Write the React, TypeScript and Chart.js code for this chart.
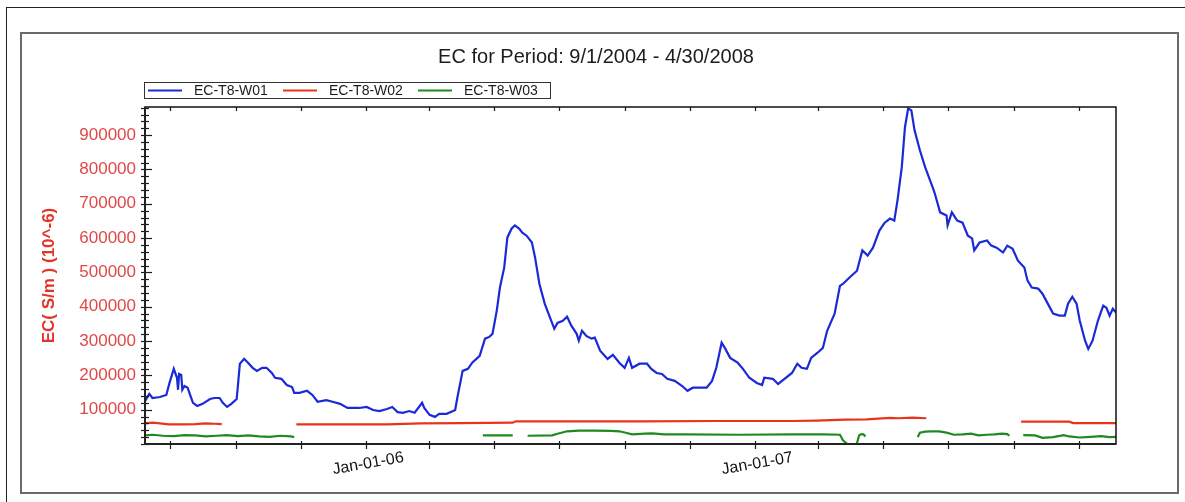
import { useEffect, useRef } from 'react';
import { Chart, registerables } from 'chart.js';

Chart.register(...registerables);

const FONT = '"Liberation Sans", Arial, Helvetica, sans-serif';

const chartTitle = 'EC for Period: 9/1/2004 - 4/30/2008';
const yAxisTitle = 'EC( S/m ) (10^-6)';
const seriesNames = ['EC-T8-W01', 'EC-T8-W02', 'EC-T8-W03'];
const seriesColors = ['#1a2ad6', '#e8341c', '#1f8a1f'];

// x values: days relative to Jan-01-2006
const xMin = -207;
const xMax = 704;
const xTickDays = [-184, -122, -61, 0, 59, 120, 181, 243, 304, 365, 424, 485, 546, 608, 669];
const xTickLabels = ['', '', '', 'Jan-01-06', '', '', '', '', '', 'Jan-01-07', '', '', '', '', ''];

const yMin = 0;
const yMax = 982000;
const yMinorStep = 20000;
const yTickLabels = ['100000', '200000', '300000', '400000', '500000', '600000', '700000', '800000', '900000'];

const w01Days = [
  -207, -203, -200, -193, -187, -184, -180, -177, -176, -175,
  -173, -172, -170, -167, -165, -162, -158, -153, -146, -142,
  -137, -134, -130, -126, -121, -120, -118, -114, -111, -106,
  -102, -97, -93, -88, -85, -79, -74, -69, -67, -62,
  -55, -50, -45, -37, -31, -24, -17, -12, -6, 1,
  7, 13, 20, 25, 30, 35, 41, 46, 53, 55,
  60, 65, 69, 76, 82, 84, 86, 91, 96, 100,
  107, 112, 116, 119, 123, 126, 130, 133, 137, 140,
  144, 147, 151, 156, 159, 163, 168, 173, 177, 180,
  185, 189, 193, 198, 200, 203, 207, 212, 215, 220,
  227, 232, 238, 243, 247, 250, 257, 264, 268, 273,
  278, 283, 290, 297, 302, 307, 320, 325, 329, 334,
  337, 342, 349, 354, 360, 367, 372, 374, 382, 387,
  393, 400, 405, 409, 414, 418, 424, 429, 433, 440,
  445, 448, 454, 461, 466, 471, 476, 482, 487, 492,
  496, 499, 503, 506, 509, 512, 515, 520, 525, 532,
  534, 539, 545, 546, 550, 555, 560, 565, 569, 571,
  576, 583, 587, 592, 598, 602, 607, 612, 618, 621,
  625, 631, 635, 640, 645, 651, 656, 659, 663, 667,
  670, 675, 678, 682, 687, 692, 695, 698, 701, 704,
];
const w01EC = [
  125000, 146000, 134000, 137000, 143000, 178000, 219000, 193000, 158000, 204000,
  201000, 158000, 169000, 164000, 146000, 120000, 111000, 117000, 131000, 134000,
  134000, 120000, 108000, 117000, 131000, 164000, 234000, 248000, 239000, 222000,
  213000, 222000, 222000, 207000, 193000, 190000, 172000, 166000, 149000, 149000,
  155000, 143000, 123000, 128000, 123000, 117000, 105000, 105000, 105000, 108000,
  99000, 96000, 102000, 108000, 93000, 91000, 96000, 91000, 120000, 105000,
  85000, 79000, 88000, 88000, 96000, 99000, 134000, 213000, 219000, 237000,
  257000, 307000, 312000, 321000, 388000, 456000, 514000, 602000, 628000, 637000,
  628000, 616000, 607000, 587000, 543000, 467000, 409000, 368000, 336000, 353000,
  359000, 371000, 345000, 321000, 301000, 330000, 315000, 307000, 310000, 272000,
  248000, 260000, 237000, 222000, 251000, 222000, 234000, 234000, 219000, 207000,
  204000, 190000, 184000, 169000, 155000, 164000, 164000, 184000, 222000, 295000,
  280000, 251000, 237000, 219000, 193000, 178000, 172000, 193000, 190000, 175000,
  190000, 207000, 234000, 222000, 219000, 251000, 266000, 280000, 330000, 380000,
  461000, 467000, 485000, 505000, 564000, 549000, 572000, 622000, 645000, 657000,
  651000, 710000, 806000, 923000, 978000, 972000, 914000, 856000, 806000, 748000,
  730000, 675000, 666000, 637000, 675000, 651000, 645000, 607000, 599000, 564000,
  587000, 593000, 578000, 572000, 558000, 578000, 569000, 534000, 514000, 476000,
  456000, 453000, 438000, 409000, 380000, 374000, 374000, 409000, 429000, 409000,
  359000, 301000, 277000, 301000, 359000, 403000, 397000, 374000, 394000, 383000,
];

const w02Days = [
  -207, -200, -193, -185, -170, -160, -150, -142, -135,
  -100,
  -65, -20, 20, 52, 90, 138, 141, 200, 260, 330, 400, 423, 450, 470, 492, 500, 513, 526,
  570,
  615, 660, 664, 704,
];
const w02EC = [
  60000, 62000, 60000, 57000, 57000, 58000, 60000, 59000, 58000,
  null,
  57000, 57000, 57000, 60000, 61000, 62000, 66000, 66000, 66000, 67000, 67000, 68000, 71000, 72000, 76000, 75000, 77000, 75000,
  null,
  65000, 65000, 61000, 61000,
];

const w03Days = [
  -207, -200, -190, -180, -170, -160, -150, -140, -130, -120, -110, -100, -90, -80, -70, -67,
  20,
  110, 138,
  145,
  152, 175, 180, 189, 200, 215, 230, 238, 245, 250, 262, 269, 280, 300, 350, 400, 430, 445, 448, 452,
  456,
  461, 463, 465, 467, 469,
  490,
  518, 520, 525, 530, 538, 545, 552, 560, 568, 575, 583, 590, 597, 602, 604,
  610,
  617, 628, 635, 645, 655, 660, 670, 680, 690, 698, 704,
];
const w03EC = [
  25000, 27000, 24000, 23000, 26000, 25000, 22000, 24000, 26000, 23000, 25000, 22000, 21000, 24000, 22000, 20000,
  null,
  25000, 25000,
  null,
  24000, 25000, 30000, 37000, 39000, 39000, 38000, 37000, 32000, 28000, 30000, 31000, 28000, 28000, 27000, 28000, 28000, 27000, 10000, 0,
  null,
  3000, 25000, 29000, 28000, 22000,
  null,
  20000, 33000, 36000, 37000, 37000, 33000, 27000, 28000, 30000, 25000, 27000, 28000, 30000, 29000, 24000,
  null,
  26000, 25000, 18000, 20000, 26000, 22000, 19000, 21000, 23000, 20000, 21000,
];

const zip = (xs: number[], ys: (number | null)[]) => xs.map((x, i) => ({ x, y: ys[i] }));

const decorPlugin = {
  id: 'decor',
  afterDatasetsDraw(chart: any) {
    const { ctx, chartArea: a, scales } = chart;
    ctx.save();
    // y ticks (crossing the left axis)
    ctx.strokeStyle = '#1a1a1a';
    ctx.lineWidth = 1.2;
    scales.y.ticks.forEach((t: any) => {
      const py = Math.round(scales.y.getPixelForValue(t.value)) + 0.5;
      const major = yTickLabels.includes(String(t.value));
      ctx.beginPath();
      ctx.moveTo(a.left - 4, py);
      ctx.lineTo(a.left + (major ? 7 : 4), py);
      ctx.stroke();
    });
    // x ticks, bottom and top
    scales.x.ticks.forEach((t: any) => {
      const px = Math.round(scales.x.getPixelForValue(t.value)) + 0.5;
      ctx.beginPath();
      ctx.moveTo(px, a.bottom - 3);
      ctx.lineTo(px, a.bottom + 5);
      ctx.moveTo(px, a.top);
      ctx.lineTo(px, a.top + 4);
      ctx.stroke();
    });
    // plot frame
    ctx.lineWidth = 1.5;
    ctx.strokeStyle = '#111';
    ctx.strokeRect(a.left, a.top, a.right - a.left, a.bottom - a.top);
    ctx.lineWidth = 2;
    ctx.strokeStyle = '#222';
    ctx.beginPath();
    ctx.moveTo(a.left, a.top);
    ctx.lineTo(a.left, a.bottom);
    ctx.lineTo(a.right, a.bottom);
    ctx.stroke();

    // title
    ctx.fillStyle = '#1c1c1c';
    ctx.font = `20px ${FONT}`;
    ctx.textAlign = 'center';
    ctx.textBaseline = 'middle';
    ctx.fillText(chartTitle, 596, 57);

    // legend
    const lx = a.left - 1;
    const ly = 82;
    ctx.lineWidth = 1;
    ctx.strokeStyle = '#333';
    ctx.strokeRect(lx + 0.5, ly + 0.5, 406, 16);
    ctx.font = `14px ${FONT}`;
    ctx.textAlign = 'left';
    chart.data.datasets.forEach((ds: any, i: number) => {
      const x0 = lx + 4 + i * 135;
      ctx.strokeStyle = ds.borderColor;
      ctx.lineWidth = 2;
      ctx.beginPath();
      ctx.moveTo(x0, ly + 8.5);
      ctx.lineTo(x0 + 34, ly + 8.5);
      ctx.stroke();
      ctx.fillStyle = '#1c1c1c';
      ctx.fillText(ds.label, x0 + 46, ly + 9);
    });
    ctx.restore();
  },
};

export default function App() {
  const ref = useRef<HTMLCanvasElement | null>(null);

  useEffect(() => {
    if (!ref.current) return;
    const series = [zip(w01Days, w01EC), zip(w02Days, w02EC), zip(w03Days, w03EC)];
    const chart = new Chart(ref.current, {
      type: 'line',
      data: {
        datasets: series.map((d, i) => ({
          label: seriesNames[i],
          data: d as any,
          borderColor: seriesColors[i],
          backgroundColor: seriesColors[i],
          borderWidth: 2.2,
          pointRadius: 0,
          tension: 0,
          spanGaps: false,
          fill: false,
        })),
      },
      options: {
        animation: false,
        responsive: false,
        devicePixelRatio: 1,
        layout: { padding: { left: 0, right: 69, top: 107, bottom: 0 } },
        plugins: {
          legend: { display: false },
          title: { display: false },
          tooltip: { enabled: false },
        },
        scales: {
          x: {
            type: 'linear',
            min: xMin,
            max: xMax,
            grid: { display: false, drawTicks: false },
            border: { display: false },
            afterBuildTicks: (s: any) => {
              s.ticks = xTickDays.map((v) => ({ value: v }));
            },
            afterFit: (s: any) => {
              s.height = 58;
            },
            ticks: {
              autoSkip: false,
              minRotation: 10,
              maxRotation: 10,
              labelOffset: 38,
              padding: 4,
              color: '#111',
              font: { family: FONT, size: 16 },
              callback: (v: any) => {
                const i = xTickDays.indexOf(Number(v));
                return i >= 0 ? xTickLabels[i] : '';
              },
            },
          },
          y: {
            type: 'linear',
            min: yMin,
            max: yMax,
            grid: { display: false, drawTicks: false },
            border: { display: false },
            afterBuildTicks: (s: any) => {
              const t: { value: number }[] = [];
              for (let v = yMin; v <= yMax; v += yMinorStep) t.push({ value: v });
              s.ticks = t;
            },
            afterFit: (s: any) => {
              s.width = 145;
            },
            title: {
              display: true,
              text: yAxisTitle,
              color: '#e3342a',
              font: { family: FONT, size: 17, weight: 'bold' },
              padding: { top: 39, bottom: 0 },
            },
            ticks: {
              autoSkip: false,
              padding: 9,
              color: '#e04848',
              font: { family: FONT, size: 17 },
              callback: (v: any) => (yTickLabels.includes(String(v)) ? String(v) : ''),
            },
          },
        },
      },
      plugins: [decorPlugin],
    });
    return () => chart.destroy();
  }, []);

  return (
    <div
      style={{
        position: 'fixed',
        left: 0,
        top: 0,
        width: 1185,
        height: 502,
        background: '#fff',
        overflow: 'hidden',
      }}
    >
      <div
        style={{
          position: 'absolute',
          left: 6,
          top: 7,
          width: 1300,
          height: 600,
          borderTop: '1px solid #222',
          borderLeft: '1px solid #222',
        }}
      />
      <div
        style={{
          position: 'absolute',
          left: 20,
          top: 32,
          width: 1159,
          height: 462,
          boxSizing: 'border-box',
          border: '2px solid #6a6a6a',
        }}
      />
      <canvas ref={ref} width={1185} height={502} style={{ position: 'absolute', left: 0, top: 0 }} />
    </div>
  );
}
